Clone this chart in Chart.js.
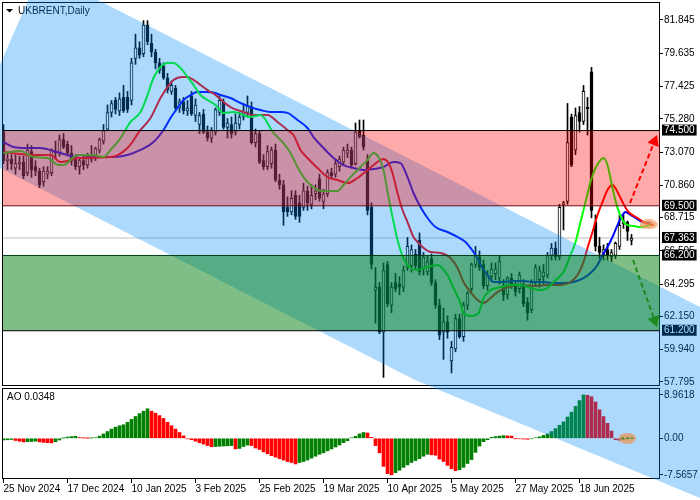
<!DOCTYPE html>
<html>
<head>
<meta charset="utf-8">
<script src="https://cdn.jsdelivr.net/npm/chart.js@4.4.1/dist/chart.umd.min.js"></script>
<style>
	html, body { margin: 0; padding: 0; background: #fff; }
	#wrap { position: relative; width: 700px; height: 500px; }
	#wrap canvas { position: absolute; left: 0; top: 0; }
</style>
</head>
<body>
<div id="wrap">
	<canvas id="main" width="700" height="500"></canvas>
	<canvas id="over" width="700" height="500"></canvas>
</div>
<script>
// daily bars, 25 Nov 2024 .. 7 Jul 2025 (bar index 0..157)
const open = [
	74.4, 72.5, 72.6, 72.0, 72.3, 72.4, 71.7, 73.1, 72.1, 71.8,
	71.1, 71.6, 71.7, 73.1, 73.0, 73.9, 73.6, 73.0, 72.6, 72.1,
	72.5, 72.2, 72.6, 72.8, 73.2, 73.8, 74.6, 75.7, 76.5, 75.8,
	76.7, 76.7, 76.5, 79.3, 80.0, 79.6, 81.5, 80.3, 79.7, 79.0,
	78.8, 78.0, 77.1, 77.3, 76.0, 76.4, 75.8, 76.8, 75.5, 74.9,
	75.6, 74.4, 74.0, 74.4, 75.7, 76.4, 74.7, 74.9, 74.4, 74.9,
	75.4, 75.7, 76.1, 73.7, 74.3, 72.5, 72.1, 72.3, 73.2, 71.2,
	70.9, 69.4, 69.1, 70.2, 69.7, 69.4, 70.5, 69.6, 70.3, 71.3,
	69.8, 70.3, 71.7, 71.6, 72.1, 72.4, 73.0, 73.2, 72.3, 74.5,
	74.2, 72.5, 69.4, 63.9, 64.1, 61.1, 65.6, 62.9, 64.4, 64.3,
	64.1, 65.4, 65.5, 66.3, 67.2, 65.3, 65.1, 66.0, 64.4, 62.9,
	61.1, 61.8, 59.2, 60.0, 62.0, 60.8, 62.9, 64.0, 65.6, 66.1,
	65.6, 64.2, 64.8, 65.0, 64.7, 64.2, 63.6, 64.7, 64.2, 64.0,
	64.2, 63.1, 62.6, 64.4, 64.6, 64.8, 64.9, 66.2, 66.7, 66.1,
	69.6, 69.8, 75.4, 73.2, 75.7, 75.1, 76.05, 78.4, 68.4, 66.8,
	66.2, 66.6, 66.1, 66.2, 66.8, 68.3, 68.4, 67.2
];
const high = [
	74.9, 73.0, 72.9, 72.9, 72.8, 72.8, 73.6, 73.5, 72.5, 72.0,
	72.1, 72.1, 73.3, 73.8, 74.2, 74.3, 73.8, 73.5, 72.9, 72.7,
	72.8, 73.0, 73.5, 73.4, 74.0, 74.9, 76.2, 76.5, 76.7, 77.0,
	77.5, 77.1, 79.3, 80.9, 80.4, 81.8, 81.8, 80.9, 79.9, 79.3,
	79.0, 78.3, 77.8, 77.5, 76.6, 76.7, 76.5, 77.1, 76.6, 75.7,
	75.9, 74.8, 74.7, 76.0, 76.9, 76.6, 75.3, 75.4, 75.6, 75.7,
	76.3, 76.8, 76.4, 74.6, 74.5, 72.9, 73.5, 73.4, 73.6, 71.6,
	71.2, 70.1, 70.5, 70.5, 70.2, 71.0, 70.8, 70.9, 70.9, 71.6,
	70.6, 71.9, 72.0, 72.6, 72.8, 73.4, 73.6, 73.4, 75.0, 75.2,
	75.2, 72.9, 69.7, 65.4, 64.4, 65.7, 65.8, 64.4, 65.0, 64.8,
	65.5, 67.4, 66.9, 66.6, 67.7, 66.4, 66.2, 66.3, 64.6, 63.3,
	62.7, 62.2, 60.5, 62.3, 62.3, 63.1, 63.8, 65.7, 66.8, 66.5,
	65.9, 65.2, 65.7, 65.7, 66.2, 64.6, 64.8, 65.0, 64.5, 65.1,
	64.6, 63.4, 64.6, 65.6, 65.5, 65.6, 66.4, 67.0, 67.1, 69.6,
	69.8, 76.3, 75.6, 76.0, 76.1, 77.5, 76.7, 78.7, 68.9, 67.4,
	66.9, 67.0, 66.6, 67.1, 68.9, 68.9, 68.5, 67.6
];
const low = [
	72.3, 71.9, 71.9, 71.6, 71.9, 71.3, 71.5, 71.4, 71.5, 70.7,
	70.8, 71.3, 71.5, 72.6, 72.8, 73.3, 72.8, 72.2, 71.9, 71.6,
	71.9, 72.0, 72.4, 72.5, 73.0, 73.6, 74.5, 75.4, 75.6, 75.5,
	75.7, 75.7, 76.2, 78.9, 79.3, 79.4, 80.2, 79.4, 78.6, 78.3,
	77.9, 77.0, 76.9, 75.8, 75.7, 75.6, 75.5, 75.5, 75.1, 74.3,
	74.3, 73.8, 73.7, 74.2, 75.5, 74.6, 74.0, 74.0, 74.2, 74.6,
	75.2, 75.4, 73.6, 73.4, 72.3, 71.9, 71.9, 72.0, 71.1, 70.6,
	68.2, 68.8, 68.9, 68.6, 68.4, 69.2, 69.2, 69.3, 69.9, 69.8,
	69.3, 70.1, 71.3, 71.4, 71.8, 72.2, 72.7, 72.0, 72.2, 74.0,
	73.2, 68.9, 65.3, 61.7, 61.0, 58.1, 62.8, 62.4, 63.8, 63.6,
	63.8, 65.2, 65.1, 65.3, 64.9, 64.9, 64.9, 64.2, 62.7, 60.6,
	59.3, 60.7, 58.4, 59.8, 60.7, 60.5, 62.6, 63.8, 65.4, 65.2,
	64.0, 63.9, 64.5, 64.6, 64.3, 63.2, 63.3, 64.0, 63.5, 63.7,
	62.8, 61.9, 62.4, 64.2, 64.1, 64.3, 64.7, 65.9, 65.9, 65.9,
	67.9, 69.6, 72.1, 72.9, 74.4, 74.9, 74.2, 68.7, 66.5, 66.0,
	65.9, 65.9, 65.8, 66.0, 66.6, 68.0, 67.2, 66.9
];
const close = [
	72.5, 72.6, 72.3, 72.3, 72.4, 71.5, 73.2, 71.9, 71.8, 70.9,
	71.8, 71.8, 73.2, 73.0, 73.9, 73.4, 73.0, 72.5, 72.1, 72.5,
	72.2, 72.8, 72.9, 73.3, 73.9, 74.5, 75.7, 76.3, 75.9, 76.6,
	75.8, 75.9, 79.0, 80.0, 79.5, 81.5, 80.4, 79.7, 79.0, 78.5,
	78.0, 77.2, 77.5, 76.0, 76.4, 75.8, 76.0, 75.6, 76.2, 75.5,
	74.4, 74.0, 74.5, 75.9, 76.5, 74.7, 75.0, 74.3, 75.0, 75.4,
	75.7, 76.1, 73.7, 74.3, 72.4, 72.1, 73.1, 73.2, 71.2, 70.9,
	69.1, 69.1, 70.0, 68.8, 68.8, 70.5, 69.7, 70.2, 70.5, 70.0,
	70.3, 71.7, 71.5, 72.3, 72.6, 73.2, 73.2, 72.2, 74.4, 74.1,
	73.4, 69.2, 65.6, 64.1, 61.1, 65.2, 63.0, 64.1, 64.0, 64.1,
	65.2, 66.8, 66.6, 65.5, 65.1, 66.1, 65.8, 64.4, 62.9, 60.9,
	61.8, 61.1, 60.1, 62.0, 60.8, 62.9, 63.7, 65.6, 66.2, 65.4,
	64.2, 64.9, 65.3, 65.3, 65.8, 63.6, 64.7, 64.2, 63.8, 64.9,
	63.0, 62.4, 64.4, 65.4, 65.2, 65.1, 66.2, 66.7, 66.1, 69.4,
	69.7, 73.7, 72.2, 75.5, 75.1, 77.1, 75.95, 69.2, 66.8, 66.4,
	66.6, 66.2, 66.4, 67.0, 68.2, 68.5, 67.8, 67.363
];

// Awesome Oscillator, one value per bar
const ao = [
	-0.35, -0.3, -0.25, -0.45, -0.6, -0.75, -0.7, -0.65, -0.6, -0.75,
	-0.85, -0.9, -0.95, -0.7, -0.35, 0.05, 0.25, 0.35, 0.4, 0.15,
	0.05, 0.02, 0.06, 0.12, 0.45, 0.9, 1.4, 1.9, 2.3, 2.6,
	2.8, 3.3, 3.9, 4.5, 5.1, 5.6, 6.1, 5.6, 5.2, 4.7,
	4.1, 3.3, 2.6, 1.9, 1.2, 0.5, -0.1, -0.3, -0.6, -0.9,
	-1.2, -1.5, -1.75, -1.7, -1.65, -1.6, -1.55, -1.5, -2.2, -2.1,
	-1.7, -1.4, -1.5, -2.0, -2.3, -2.8, -3.2, -3.6, -3.9, -4.2,
	-4.5, -4.8, -5.0, -5.3, -5.0, -4.8, -4.5, -4.1, -3.7, -3.3,
	-3.0, -2.6, -2.2, -1.8, -1.4, -0.9, -0.5, 0.1, 0.4, 0.9,
	1.2, 1.1, 0.2, -1.5, -3.0, -5.8, -7.3, -7.55, -7.1, -6.6,
	-6.0, -5.5, -5.0, -4.6, -4.2, -3.7, -3.3, -3.4, -3.5, -4.3,
	-4.8, -5.6, -6.3, -6.7, -6.5, -6.0, -5.2, -4.4, -2.9, -1.6,
	-0.7, -0.3, 0.2, 0.35, 0.45, 0.55, 0.5, 0.45, -0.05, -0.1,
	-0.15, -0.2, -0.1, 0.1, 0.3, 0.6, 0.9, 1.4, 2.0, 2.7,
	3.4, 4.4, 5.4, 6.6, 7.8, 8.96, 8.9, 8.6, 7.5, 5.9,
	4.5, 3.1, 1.5, -0.3, -0.4, -0.3, -0.1, 0.035
];

// Alligator lines (bar index, price)
const lipsIdx = [0, 4.25, 7.5, 11, 13.75, 15, 18.5, 22.5, 25, 26.75, 29.25, 31.75, 34.25, 36, 37.5, 39.25, 41, 42.5, 44.25, 46, 47.5, 49.25, 51, 53, 55, 57.5, 61.75, 64.25, 67.5, 70, 71.75, 73.5, 75, 76.75, 78.5, 80, 83.5, 85, 86.75, 89.25, 91, 92.5, 93.75, 95, 96.25, 97.25, 98.5, 100, 101.75, 103.5, 105.5, 108.5, 111, 112.5, 114.25, 115, 116.75, 118.75, 120, 121.75, 124.25, 126.75, 129.25, 131.75, 134.25, 136, 137.5, 140, 141.75, 143, 144.25, 145.5, 146.75, 148, 149.25, 150, 151, 152.25, 153.5, 154.75, 156, 157.5, 159.25, 161.75];
const lipsVal = [73.0, 73.14, 72.74, 72.68, 72.21, 72.21, 72.88, 72.88, 72.74, 73.21, 74.0, 75.07, 75.73, 76.86, 77.99, 78.72, 78.99, 78.99, 78.66, 78.06, 77.53, 76.86, 76.53, 76.2, 75.67, 75.73, 75.4, 75.53, 74.34, 73.67, 73.01, 72.08, 71.41, 70.88, 70.55, 70.48, 70.48, 70.88, 71.41, 72.08, 72.54, 73.01, 72.74, 71.88, 70.08, 68.76, 67.23, 66.03, 65.37, 65.23, 65.4, 65.57, 64.9, 64.04, 63.04, 62.37, 62.18, 62.37, 63.37, 63.9, 64.1, 64.24, 64.24, 64.04, 63.9, 64.04, 64.44, 65.1, 66.23, 67.09, 68.42, 69.75, 71.08, 72.01, 72.54, 72.68, 72.21, 70.68, 69.36, 68.56, 68.22, 68.16, 68.09, 68.22];

const teethIdx = [0, 7.5, 11.75, 14.25, 16, 18.5, 26.75, 31, 34.25, 36.75, 39.25, 41, 42.5, 44.75, 46, 47.5, 49.25, 51, 53, 55, 56.75, 60, 62.5, 66, 68.5, 71, 72.5, 74.25, 76, 78.5, 81, 83.5, 86, 88.5, 91, 93.5, 95, 96.25, 97.25, 98.5, 99.75, 101, 102.5, 103.75, 105.5, 106.75, 109.25, 111.75, 113.5, 115, 116.75, 118.5, 120, 121.75, 123.5, 126, 129.25, 132.5, 136, 139.25, 141.75, 143.5, 145, 146, 147.25, 148.5, 149.75, 151, 152.25, 153.5, 154.75, 156.25, 158.5, 160.5, 162.5];
const teethVal = [73.07, 72.88, 72.88, 72.41, 72.48, 72.68, 72.74, 73.34, 74.54, 75.33, 76.66, 77.39, 77.86, 78.06, 78.06, 77.86, 77.53, 77.19, 76.86, 76.4, 76.06, 75.73, 75.53, 75.53, 75.07, 74.54, 74.2, 73.21, 72.68, 72.01, 71.41, 71.21, 71.01, 71.35, 71.88, 72.41, 72.61, 72.34, 71.68, 70.35, 69.22, 68.42, 67.43, 67.03, 66.6, 66.43, 66.36, 66.03, 65.37, 64.44, 63.77, 63.24, 63.04, 63.37, 63.77, 64.1, 64.24, 64.17, 64.24, 64.24, 64.44, 64.9, 65.76, 66.7, 67.76, 68.89, 69.75, 70.55, 70.88, 70.42, 69.75, 69.09, 68.69, 68.36, 68.22];

const jawIdx = [0, 2.5, 6, 9.25, 12.5, 16, 19.25, 24.25, 27.5, 31, 34.25, 37.5, 40, 41.75, 43.5, 45, 46.75, 48.5, 51, 53, 54.25, 56.75, 59.25, 61.75, 64.25, 66.75, 69.25, 71, 73.5, 76, 77.5, 80, 82.5, 85, 87.5, 90, 92.5, 95, 97.5, 99.25, 101, 102.5, 104.25, 106, 108, 111, 113.5, 115.5, 116.75, 118, 119.75, 121, 122.5, 125, 127.5, 130, 132.5, 135, 137.5, 140, 142.5, 145, 146.75, 148.5, 149.75, 151, 152.25, 153.5, 154.75, 155.5, 156.75, 158, 159.75, 161.75];
const jawVal = [73.74, 73.41, 73.34, 73.34, 73.14, 72.88, 72.68, 72.74, 72.74, 72.88, 73.21, 73.74, 74.54, 75.33, 76.0, 76.53, 76.86, 77.06, 77.06, 76.99, 76.86, 76.66, 76.33, 76.06, 75.86, 75.73, 75.73, 75.67, 75.2, 74.67, 74.07, 73.34, 72.68, 72.21, 72.01, 71.88, 71.94, 72.08, 72.41, 72.34, 71.41, 70.35, 69.42, 68.69, 68.09, 67.76, 67.43, 67.09, 66.7, 66.23, 65.37, 64.9, 64.44, 64.44, 64.5, 64.5, 64.44, 64.44, 64.37, 64.37, 64.44, 64.7, 65.03, 65.57, 66.23, 66.76, 67.43, 68.22, 68.89, 69.09, 68.89, 68.69, 68.42, 68.36];

// axis ticks
const tickIdx = [0, 16, 32, 48, 64, 80, 96, 112, 128, 144];
const tickLabels = ['25 Nov 2024', '17 Dec 2024', '10 Jan 2025', '3 Feb 2025', '25 Feb 2025', '19 Mar 2025', '10 Apr 2025', '5 May 2025', '27 May 2025', '18 Jun 2025'];
const priceTicks = [81.845, 79.635, 77.425, 75.280, 73.070, 70.860, 68.715, 66.505, 64.295, 62.150, 59.940, 57.795];
const levels = [74.5, 69.5, 66.2, 61.2, 67.363];
const aoTicks = [8.9618, 0, -7.5657];
const aoTickLabels = ['8.9618', '0.00', '-7.5657'];

// drawn objects: channel corners, zones, arrows, markers
const chanIdx = [9.375, 189.125, 189.125, 102.875, -10.125];
const chanVal = [85.10, 60.74, 48.44, 57.93, 73.27];
const upZone = [74.5, 69.5];
const downZone = [66.2, 61.2];
const lastPrice = 67.363;
const upArrowIdx = [156.63, 162.73];
const upArrowVal = [69.69, 73.77];
const downArrowIdx = [157.38, 162.78];
const downArrowVal = [65.90, 61.89];
const markIdx = [161.25];
const markVal = [68.26];
const aoMarkIdx = [155.9];
const aoMarkVal = [0];

const PMAX = 82.974, PMIN = 57.529;
const AOMAX = 10.81, AOMIN = -8.41;
const XMIN = -0.125, XMAX = 164.125;

Chart.defaults.font.family = '"Liberation Sans", Arial, sans-serif';
Chart.defaults.font.size = 10;
Chart.defaults.color = '#000';

const pts = (xs, ys) => xs.map((x, k) => ({x: x, y: ys[k]}));
const flat = v => [{x: XMIN, y: v}, {x: XMAX, y: v}];
const bars = open.map((_, i) => i);
const isLevel = c => c.index >= priceTicks.length;

const frames = {
	id: 'frames',
	afterDraw(chart) {
		const {ctx, chartArea: a, scales} = chart;
		const y = scales.y, s = scales.ao;
		ctx.save();
		ctx.strokeStyle = '#000';
		ctx.lineWidth = 1;
		ctx.strokeRect(a.left - 0.5, y.top - 0.5, a.right - a.left, y.bottom - y.top);
		ctx.strokeRect(a.left - 0.5, s.top + 2.5, a.right - a.left, s.bottom - s.top - 3);
		ctx.fillStyle = '#000';
		ctx.font = '10px "Liberation Sans", Arial, sans-serif';
		ctx.textBaseline = 'middle';
		ctx.fillText('UKBRENT,Daily', 18, 11);
		ctx.fillText('AO 0.0348', 7, s.top + 11);
		ctx.beginPath();
		ctx.moveTo(6, 9);
		ctx.lineTo(13, 9);
		ctx.lineTo(9.5, 12.5);
		ctx.closePath();
		ctx.fill();
		ctx.restore();
	}
};

const main = new Chart(document.getElementById('main'), {
	type: 'line',
	data: {
		datasets: [
			{
				label: 'last', data: flat(lastPrice), yAxisID: 'y',
				borderColor: '#c0c0c0', borderWidth: 1, pointRadius: 0, order: 30
			},
			{
				type: 'bar', label: 'wicks', yAxisID: 'y',
				data: bars.map(i => ({x: i, y: [low[i], high[i]]})),
				barThickness: 1, grouped: false, backgroundColor: '#000', order: 21
			},
			{
				type: 'bar', label: 'bodies', yAxisID: 'y',
				data: bars.map(i => ({x: i, y: [open[i], close[i]]})),
				barThickness: 3, grouped: false, minBarLength: 1,
				backgroundColor: c => close[c.dataIndex] >= open[c.dataIndex] ? '#fff' : '#000',
				borderColor: '#000', borderWidth: 1, borderSkipped: false, order: 20
			},
			{
				label: 'jaw', data: pts(jawIdx, jawVal), yAxisID: 'y',
				borderColor: '#0000ff', borderWidth: 2, pointRadius: 0,
				cubicInterpolationMode: 'monotone', order: 12
			},
			{
				label: 'teeth', data: pts(teethIdx, teethVal), yAxisID: 'y',
				borderColor: '#ff0000', borderWidth: 2, pointRadius: 0,
				cubicInterpolationMode: 'monotone', order: 11
			},
			{
				label: 'lips', data: pts(lipsIdx, lipsVal), yAxisID: 'y',
				borderColor: '#00ff00', borderWidth: 2, pointRadius: 0,
				cubicInterpolationMode: 'monotone', order: 10
			},
			{
				type: 'bar', label: 'AO', yAxisID: 'ao',
				data: bars.map(i => ({x: i, y: ao[i]})),
				barThickness: 3, grouped: false,
				backgroundColor: c => (c.dataIndex > 0 && ao[c.dataIndex] < ao[c.dataIndex - 1]) ? '#ff0000' : '#008000',
				order: 15
			}
		]
	},
	options: {
		responsive: false,
		devicePixelRatio: 1,
		animation: false,
		events: [],
		layout: {padding: {top: 3, left: 3, right: 0, bottom: 0}, autoPadding: false},
		plugins: {legend: {display: false}, tooltip: {enabled: false}},
		scales: {
			x: {
				type: 'linear', min: XMIN, max: XMAX, offset: false,
				afterBuildTicks: s => { s.ticks = tickIdx.map(v => ({value: v})); },
				afterFit: s => { s.height = 21; s.paddingLeft = 0; s.paddingRight = 0; },
				ticks: {
					autoSkip: false, maxRotation: 0, minRotation: 0, align: 'start', padding: 0,
					callback: (v, k) => tickLabels[k]
				},
				grid: {drawOnChartArea: false, tickLength: 4, tickColor: '#000', offset: false},
				border: {display: false}
			},
			y: {
				type: 'linear', position: 'right', stack: 'panes', stackWeight: 383,
				min: PMIN, max: PMAX, beginAtZero: false,
				afterBuildTicks: s => { s.ticks = priceTicks.concat(levels).map(v => ({value: v})); },
				afterFit: s => { s.width = 40; s.paddingTop = 0; s.paddingBottom = 0; },
				ticks: {
					autoSkip: false, padding: 1,
					font: {size: 10, lineHeight: 1},
					callback: v => v.toFixed(3),
					color: c => isLevel(c) ? '#fff' : '#000',
					showLabelBackdrop: c => isLevel(c),
					backdropColor: '#000',
					backdropPadding: {left: 2, right: 2, top: 1, bottom: 0}
				},
				grid: {
					drawOnChartArea: false, tickLength: 3,
					tickColor: c => (c.index >= priceTicks.length) ? 'rgba(0,0,0,0)' : '#000'
				},
				border: {display: false}
			},
			ao: {
				type: 'linear', position: 'right', stack: 'panes', stackWeight: 93,
				min: AOMIN, max: AOMAX, beginAtZero: false,
				afterBuildTicks: s => { s.ticks = aoTicks.map(v => ({value: v})); },
				afterFit: s => { s.width = 40; s.paddingTop = 0; s.paddingBottom = 0; },
				ticks: {autoSkip: false, padding: 1, callback: (v, k) => aoTickLabels[k]},
				grid: {drawOnChartArea: false, tickLength: 3, tickColor: '#000'},
				border: {display: false}
			}
		}
	},
	plugins: [frames]
});

// small orange ellipse used as a point marker
function ellipse(w, h, color) {
	const c = document.createElement('canvas');
	c.width = w; c.height = h;
	const g = c.getContext('2d');
	g.fillStyle = color;
	g.beginPath();
	g.ellipse(w / 2, h / 2, w / 2, h / 2, 0, 0, Math.PI * 2);
	g.fill();
	return c;
}

// transparent drawing layer over the whole picture, same value mapping as the chart
const xs = main.scales.x, ys = main.scales.y, as = main.scales.ao;

new Chart(document.getElementById('over'), {
	type: 'line',
	data: {
		datasets: [
			{
				label: 'channel', data: pts(chanIdx, chanVal), yAxisID: 'p',
				fill: 'shape', backgroundColor: 'rgba(0,140,245,0.32)',
				borderColor: 'rgba(0,0,0,0)', pointRadius: 0, order: 20
			},
			{
				label: 'up zone', yAxisID: 'p',
				data: pts([XMIN, XMAX, XMAX, XMIN], [upZone[0], upZone[0], upZone[1], upZone[1]]),
				fill: 'shape', backgroundColor: 'rgba(255,0,0,0.333)',
				borderColor: 'rgba(0,0,0,0)', pointRadius: 0, order: 19
			},
			{
				label: 'down zone', yAxisID: 'p',
				data: pts([XMIN, XMAX, XMAX, XMIN], [downZone[0], downZone[0], downZone[1], downZone[1]]),
				fill: 'shape', backgroundColor: 'rgba(0,128,16,0.5)',
				borderColor: 'rgba(0,0,0,0)', pointRadius: 0, order: 18
			},
			{label: 'l1', data: flat(upZone[0]), yAxisID: 'p', borderColor: '#000', borderWidth: 1, pointRadius: 0, order: 10},
			{label: 'l2', data: flat(upZone[1]), yAxisID: 'p', borderColor: '#6a0c18', borderWidth: 1, pointRadius: 0, order: 10},
			{label: 'l3', data: flat(downZone[0]), yAxisID: 'p', borderColor: '#003f16', borderWidth: 1, pointRadius: 0, order: 10},
			{label: 'l4', data: flat(downZone[1]), yAxisID: 'p', borderColor: '#000', borderWidth: 1, pointRadius: 0, order: 10},
			{
				label: 'up arrow', data: pts(upArrowIdx, upArrowVal), yAxisID: 'p',
				borderColor: '#ff0000', backgroundColor: '#ff0000', borderWidth: 2, borderDash: [5, 3],
				pointStyle: 'triangle', pointRadius: [0, 7], pointRotation: [0, 21.7], pointBorderWidth: 0,
				order: 5
			},
			{
				label: 'down arrow', data: pts(downArrowIdx, downArrowVal), yAxisID: 'p',
				borderColor: '#1f8a1f', backgroundColor: '#1f8a1f', borderWidth: 2, borderDash: [5, 3],
				pointStyle: 'triangle', pointRadius: [0, 7], pointRotation: [0, 160.3], pointBorderWidth: 0,
				order: 5
			},
			{
				label: 'marker', data: pts(markIdx, markVal), yAxisID: 'p', showLine: false,
				pointStyle: ellipse(18, 10, 'rgba(240,150,85,0.7)'), pointRadius: 9, order: 4
			},
			{
				label: 'ao marker', data: pts(aoMarkIdx, aoMarkVal), yAxisID: 'a', showLine: false,
				pointStyle: ellipse(17, 11, 'rgba(232,150,90,0.75)'), pointRadius: 9, order: 4
			},
			{
				label: 'ao dash', data: pts([154.4, 157.4], [0, 0]), yAxisID: 'a',
				borderColor: '#3c8c1e', borderWidth: 1.5, borderDash: [3, 2], pointRadius: 0, order: 3
			}
		]
	},
	options: {
		responsive: false,
		devicePixelRatio: 1,
		animation: false,
		events: [],
		layout: {padding: 0, autoPadding: false},
		plugins: {legend: {display: false}, tooltip: {enabled: false}},
		scales: {
			x: {type: 'linear', display: false, min: xs.getValueForPixel(0), max: xs.getValueForPixel(700)},
			p: {type: 'linear', display: false, min: ys.getValueForPixel(500), max: ys.getValueForPixel(0)},
			a: {type: 'linear', display: false, min: as.getValueForPixel(500), max: as.getValueForPixel(0)}
		}
	}
});
</script>
</body>
</html>
